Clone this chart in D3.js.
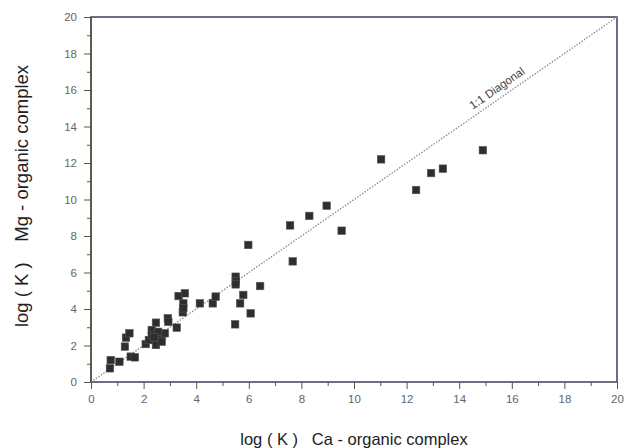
<!DOCTYPE html>
<html><head><meta charset="utf-8">
<script src="https://cdn.jsdelivr.net/npm/d3@7"></script>
<style>
html,body{margin:0;padding:0;background:#fff;}
svg{display:block;font-family:"Liberation Sans",Arial,Helvetica,sans-serif;}
text{white-space:pre;}
</style></head>
<body><svg id="c" width="624" height="448"></svg>
<script>
// Data
const caLogK = [0.72,0.75,1.08,1.29,1.33,1.46,1.51,1.67,2.08,2.20,2.31,2.31,2.47,2.50,2.47,2.69,2.81,2.69,2.92,2.94,3.26,3.33,3.57,3.49,3.51,3.51,4.14,4.63,4.74,5.50,5.51,5.50,5.79,5.67,6.07,5.48,6.43,5.98,7.57,7.67,8.30,8.96,9.53,11.03,12.36,12.93,13.38,14.9,2.55,2.40];
const mgLogK = [0.75,1.20,1.11,1.94,2.43,2.67,1.39,1.35,2.08,2.30,2.85,2.58,3.25,2.30,2.03,2.58,2.67,2.21,3.49,3.30,2.98,4.71,4.86,3.82,4.31,4.04,4.31,4.31,4.68,5.77,5.53,5.35,4.77,4.31,3.76,3.16,5.26,7.51,8.58,6.61,9.10,9.66,8.29,12.2,10.52,11.45,11.69,12.7,2.75,2.45];
const majorTicks = [0,2,4,6,8,10,12,14,16,18,20];
const minorTicks = [1,3,5,7,9,11,13,15,17,19];
const xTitle = "log ( K )   Ca - organic complex";
const yTitle = "log ( K )    Mg - organic complex";
const diagLabel = "1:1 Diagonal";

const svg = d3.select("#c");
const L = 91, R = 617, T = 17, B = 382;
const x = d3.scaleLinear().domain([0,20]).range([L,R]);
const y = d3.scaleLinear().domain([0,20]).range([B,T]);

// frame
svg.append("rect").attr("x",L).attr("y",T).attr("width",R-L).attr("height",B-T)
  .attr("fill","#fff").attr("stroke","#3e3e58").attr("stroke-width",1.5);

// diagonal
svg.append("line").attr("x1",x(0)).attr("y1",y(0)).attr("x2",x(20)).attr("y2",y(20))
  .attr("stroke","#8a8a8a").attr("stroke-width",1.3).attr("stroke-dasharray","1.5,1.5");
const ang = Math.atan2(y(20)-y(0), x(20)-x(0))*180/Math.PI;
svg.append("text").attr("transform",`translate(${x(15.65)},${y(15.65)}) rotate(${ang})`)
  .attr("dy",-6).attr("text-anchor","middle").attr("font-size",11.5).attr("fill","#444")
  .text(diagLabel);

// axes
function styleAxis(g){ g.select(".domain").remove(); g.selectAll("line").attr("stroke","#555"); g.selectAll("text").attr("fill","#666").attr("font-size",11.5); }
svg.append("g").attr("transform",`translate(0,${B})`)
  .call(d3.axisBottom(x).tickValues(majorTicks).tickSize(7).tickPadding(6).tickFormat(d3.format("d"))).call(styleAxis);
svg.append("g").attr("transform",`translate(0,${B})`)
  .call(d3.axisBottom(x).tickValues(minorTicks).tickSize(4).tickFormat("")).call(styleAxis);
svg.append("g").attr("transform",`translate(${L},0)`)
  .call(d3.axisLeft(y).tickValues(majorTicks).tickSize(7).tickPadding(7).tickFormat(d3.format("d"))).call(styleAxis);
svg.append("g").attr("transform",`translate(${L},0)`)
  .call(d3.axisLeft(y).tickValues(minorTicks).tickSize(4).tickFormat("")).call(styleAxis);
// left axis line
svg.append("line").attr("x1",L).attr("x2",L).attr("y1",T).attr("y2",B).attr("stroke","#5a5535").attr("stroke-width",1.5);

// points
const s = 7.5;
svg.append("g").selectAll("rect").data(caLogK.map((d,i)=>[d,mgLogK[i]])).join("rect")
  .attr("x",d=>x(d[0])-s/2).attr("y",d=>y(d[1])-s/2).attr("width",s).attr("height",s)
  .attr("fill","#2e2e2e").attr("stroke","#555").attr("stroke-width",0.6);

// titles
svg.append("text").attr("x",(L+R)/2).attr("y",445).attr("text-anchor","middle")
  .attr("font-size",16.5).attr("fill","#222").text(xTitle);
svg.append("text").attr("transform","translate(28,196) rotate(-90)").attr("text-anchor","middle")
  .attr("font-size",18.5).attr("fill","#222").text(yTitle);
</script></body></html>
